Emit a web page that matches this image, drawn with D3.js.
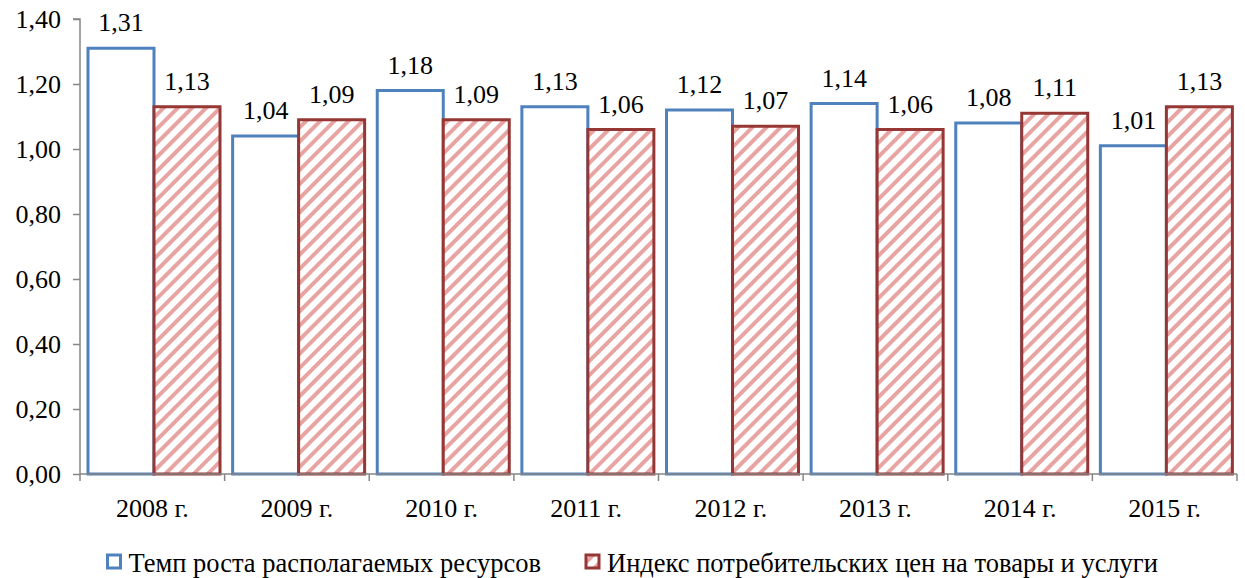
<!DOCTYPE html>
<html>
<head>
<meta charset="utf-8">
<script src="https://cdnjs.cloudflare.com/ajax/libs/d3/7.8.5/d3.min.js"></script>
</head>
<body style="margin:0">
<svg id="chart" width="1245" height="578"></svg>
<script>
const years = ["2008 г.", "2009 г.", "2010 г.", "2011 г.", "2012 г.", "2013 г.", "2014 г.", "2015 г."];
const resources = [1.31, 1.04, 1.18, 1.13, 1.12, 1.14, 1.08, 1.01];
const cpi = [1.13, 1.09, 1.09, 1.06, 1.07, 1.06, 1.11, 1.13];
const yTicks = [0, 0.2, 0.4, 0.6, 0.8, 1.0, 1.2, 1.4];
const seriesNames = ["Темп роста располагаемых ресурсов", "Индекс потребительских цен на товары и услуги"];

const FONT = "Times New Roman";
const FS = 26;
const fmt = v => d3.format(".2f")(v).replace(".", ",");

const svg = d3.select("#chart");
const plotLeft = 80, plotRight = 1237, plotTop = 19, plotBottom = 474;

const x = d3.scaleBand().domain(years).range([plotLeft, plotRight]).paddingInner(0).paddingOuter(0);
const y = d3.scaleLinear().domain([0, 1.4]).range([plotBottom, plotTop]);

// hatch pattern for the price index bars
const defs = svg.append("defs");
const pat = defs.append("pattern")
  .attr("id", "hatch")
  .attr("patternUnits", "userSpaceOnUse")
  .attr("width", 10).attr("height", 10)
  .attr("patternTransform", "rotate(45)");
pat.append("rect").attr("width", 10).attr("height", 10).attr("fill", "#fff");
pat.append("rect").attr("x", 0).attr("y", 0).attr("width", 4).attr("height", 10).attr("fill", "#E8A4A2");

// y axis
const gy = svg.append("g").attr("transform", `translate(${plotLeft},0)`)
  .call(d3.axisLeft(y).tickValues(yTicks).tickFormat(fmt).tickSize(7).tickPadding(12));
gy.attr("font-family", FONT).attr("font-size", FS);
gy.selectAll("text").attr("fill", "#000").attr("dy", "0.33em")
  .attr("font-family", FONT).attr("font-size", FS);
gy.select(".domain").attr("d", `M-7,${plotTop}H0V${plotBottom}`);
gy.selectAll("line, path").attr("stroke", "#868686").attr("stroke-width", 1.5);

const bw = 66;
const offsets = [8, 8 + bw];

// bars and value labels
const series = [
  { values: resources, fill: "#fff", stroke: "#4F81BD" },
  { values: cpi, fill: "url(#hatch)", stroke: "#953735" }
];
series.forEach((s, si) => {
  svg.append("g").selectAll("rect").data(years).join("rect")
    .attr("x", d => x(d) + offsets[si])
    .attr("y", (d, i) => y(s.values[i]))
    .attr("width", bw)
    .attr("height", (d, i) => y(0) - y(s.values[i]))
    .attr("fill", s.fill)
    .attr("stroke", s.stroke)
    .attr("stroke-width", 3);
  svg.append("g").selectAll("text").data(years).join("text")
    .attr("font-family", FONT).attr("font-size", FS)
    .attr("x", d => x(d) + offsets[si] + bw / 2)
    .attr("y", (d, i) => y(s.values[i]) - 17)
    .attr("text-anchor", "middle")
    .text((d, i) => fmt(s.values[i]));
});

// x axis
const gx = svg.append("g").attr("transform", `translate(0,${plotBottom})`);
gx.append("line").attr("x1", plotLeft).attr("x2", plotRight).attr("y1", 0).attr("y2", 0)
  .attr("stroke", "#868686").attr("stroke-width", 1.5);
gx.selectAll("line.tk").data(d3.range(years.length + 1)).join("line").attr("class", "tk")
  .attr("x1", i => plotLeft + i * x.bandwidth()).attr("x2", i => plotLeft + i * x.bandwidth())
  .attr("y1", 0).attr("y2", 7).attr("stroke", "#868686").attr("stroke-width", 1.5);
gx.selectAll("text").data(years).join("text")
  .attr("font-family", FONT).attr("font-size", FS)
  .attr("x", d => x(d) + x.bandwidth() / 2)
  .attr("y", 43)
  .attr("text-anchor", "middle")
  .text(d => d);

// legend
const legend = svg.append("g");
const legendItems = [
  { name: seriesNames[0], x: 107.5, fill: "#fff", stroke: "#4F81BD" },
  { name: seriesNames[1], x: 586, fill: "url(#hatch)", stroke: "#953735" }
];
legendItems.forEach(li => {
  legend.append("rect").attr("x", li.x).attr("y", 555).attr("width", 13).attr("height", 13)
    .attr("fill", li.fill).attr("stroke", li.stroke).attr("stroke-width", 3);
  legend.append("text").attr("x", li.x + 21).attr("y", 572)
    .attr("font-family", FONT).attr("font-size", 26.5).text(li.name);
});
</script>
</body>
</html>
